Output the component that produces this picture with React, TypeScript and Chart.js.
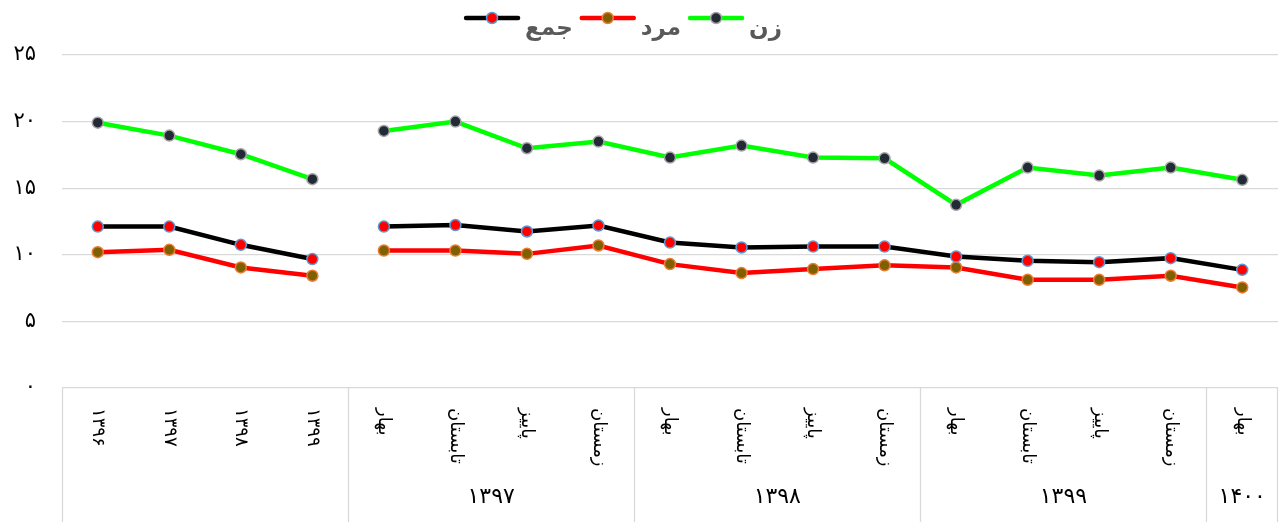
import React, { useEffect, useRef } from 'react';
import { Chart, registerables } from 'chart.js';

Chart.register(...registerables);

const categories = [
  '۱۳۹۶', '۱۳۹۷', '۱۳۹۸', '۱۳۹۹',
  'بهار', 'تابستان', 'پاییز', 'زمستان',
  'بهار', 'تابستان', 'پاییز', 'زمستان',
  'بهار', 'تابستان', 'پاییز', 'زمستان',
  'بهار',
];
const groupLabels = ['', '۱۳۹۷', '۱۳۹۸', '۱۳۹۹', '۱۴۰۰'];
const groupSizes = [4, 4, 4, 4, 1];

const seriesLabels = ['جمع', 'مرد', 'زن'];
const totalValues = [12.12, 12.12, 10.75, 9.68, 12.12, 12.23, 11.75, 12.2, 10.92, 10.55, 10.62, 10.62, 9.87, 9.55, 9.45, 9.75, 8.87];
const maleValues = [10.2, 10.37, 9.05, 8.43, 10.32, 10.32, 10.07, 10.7, 9.3, 8.63, 8.93, 9.21, 9.05, 8.12, 8.12, 8.43, 7.55];
const femaleValues = [19.92, 18.95, 17.55, 15.68, 19.3, 20.0, 18.0, 18.5, 17.3, 18.2, 17.3, 17.24, 13.75, 16.55, 15.95, 16.55, 15.63];

const yMin = 0;
const yMax = 25;
const yStep = 5;
const breakAfterIndex = 3;

const FA_DIGITS = '۰۱۲۳۴۵۶۷۸۹';
const toFa = (v: number | string) => String(v).replace(/\d/g, (d) => FA_DIGITS[+d]);

const FONT = '"DejaVu Sans", sans-serif';

const overlayPlugin = {
  id: 'overlay',
  afterDraw(chart: any) {
    const ctx: CanvasRenderingContext2D = chart.ctx;
    const xs = chart.scales.x;
    const area = chart.chartArea;
    const H = chart.height;
    ctx.save();

    // x-axis table: separators and labels
    const half = (xs.getPixelForValue(1) - xs.getPixelForValue(0)) / 2;
    ctx.strokeStyle = '#d9d9d9';
    ctx.lineWidth = 1.3;
    let idx = 0;
    groupSizes.forEach((size, g) => {
      const left = xs.getPixelForValue(idx) - half;
      const right = xs.getPixelForValue(idx + size - 1) + half;
      ctx.beginPath();
      ctx.moveTo(Math.round(left) + 0.5, area.bottom);
      ctx.lineTo(Math.round(left) + 0.5, H);
      ctx.stroke();
      if (g === groupSizes.length - 1) {
        ctx.beginPath();
        ctx.moveTo(Math.round(right) - 0.5, area.bottom);
        ctx.lineTo(Math.round(right) - 0.5, H);
        ctx.stroke();
      }
      if (groupLabels[g]) {
        ctx.fillStyle = '#000';
        ctx.font = `22px ${FONT}`;
        ctx.textAlign = 'center';
        ctx.textBaseline = 'middle';
        ctx.fillText(groupLabels[g], (left + right) / 2, 497);
      }
      idx += size;
    });

    ctx.fillStyle = '#000';
    ctx.font = `18px ${FONT}`;
    categories.forEach((c, i) => {
      const x = xs.getPixelForValue(i);
      ctx.save();
      ctx.translate(x, area.bottom + 20);
      ctx.rotate(Math.PI / 2);
      ctx.textAlign = 'left';
      ctx.textBaseline = 'middle';
      ctx.fillText(c, 0, 0);
      ctx.restore();
    });

    // legend
    const ds = chart.data.datasets;
    const symW = 56;
    const gap1 = 5;
    const gap2 = 7;
    ctx.font = `bold 23px ${FONT}`;
    const widths = ds.map((d: any) => ctx.measureText(d.label).width);
    const total = widths.reduce((a: number, w: number) => a + symW + gap1 + w, 0) + gap2 * (ds.length - 1);
    let sx = 623 - total / 2;
    const symY = 18;
    ds.forEach((d: any, i: number) => {
      ctx.strokeStyle = d.borderColor;
      ctx.lineWidth = 4.5;
      ctx.lineCap = 'round';
      ctx.beginPath();
      ctx.moveTo(sx + 2, symY);
      ctx.lineTo(sx + symW - 2, symY);
      ctx.stroke();
      ctx.beginPath();
      ctx.arc(sx + symW / 2, symY, 5.5, 0, Math.PI * 2);
      ctx.fillStyle = d.pointBackgroundColor;
      ctx.fill();
      ctx.lineWidth = 1.5;
      ctx.strokeStyle = d.pointBorderColor;
      ctx.stroke();
      ctx.fillStyle = '#595959';
      ctx.textAlign = 'left';
      ctx.textBaseline = 'alphabetic';
      ctx.fillText(d.label, sx + symW + gap1, 35);
      sx += symW + gap1 + widths[i] + gap2;
    });

    ctx.restore();
  },
};

const segmentStyle = {
  borderColor: (c: any) => (c.p0DataIndex === breakAfterIndex ? 'rgba(0,0,0,0)' : undefined),
};

export default function App() {
  const ref = useRef<HTMLCanvasElement | null>(null);

  useEffect(() => {
    if (!ref.current) return;
    const common = {
      borderWidth: 4.5,
      pointRadius: 5.5,
      pointBorderWidth: 1.5,
      tension: 0,
      segment: segmentStyle,
    };
    const chart = new Chart(ref.current, {
      type: 'line',
      data: {
        labels: categories,
        datasets: [
          {
            label: seriesLabels[0],
            data: totalValues,
            borderColor: '#000000',
            pointBackgroundColor: '#ff0000',
            pointBorderColor: '#5b9bd5',
            ...common,
          },
          {
            label: seriesLabels[1],
            data: maleValues,
            borderColor: '#ff0000',
            pointBackgroundColor: '#7f6000',
            pointBorderColor: '#ed7d31',
            ...common,
          },
          {
            label: seriesLabels[2],
            data: femaleValues,
            borderColor: '#00ff00',
            pointBackgroundColor: '#222a36',
            pointBorderColor: '#a5a5a5',
            ...common,
          },
        ],
      },
      options: {
        responsive: false,
        animation: false,
        layout: { padding: { top: 55, bottom: 134, left: 0, right: 3 } },
        plugins: {
          legend: { display: false },
          tooltip: { enabled: false },
        },
        scales: {
          x: { type: 'category', display: false, offset: true },
          y: {
            min: yMin,
            max: yMax,
            ticks: {
              stepSize: yStep,
              callback: (v: any) => toFa(v),
              color: '#000',
              font: { family: FONT, size: 21 },
              padding: 26,
            },
            grid: { color: '#d9d9d9', lineWidth: 1.3, drawTicks: false },
            border: { display: false },
            afterFit: (s: any) => {
              s.width = 62;
            },
          },
        },
      },
      plugins: [overlayPlugin],
    } as any);
    return () => chart.destroy();
  }, []);

  return (
    <div style={{ position: 'fixed', left: 0, top: 0, width: 1285, height: 522, background: '#fff' }}>
      <canvas ref={ref} width={1285} height={522} style={{ display: 'block', width: 1285, height: 522 }} />
    </div>
  );
}
